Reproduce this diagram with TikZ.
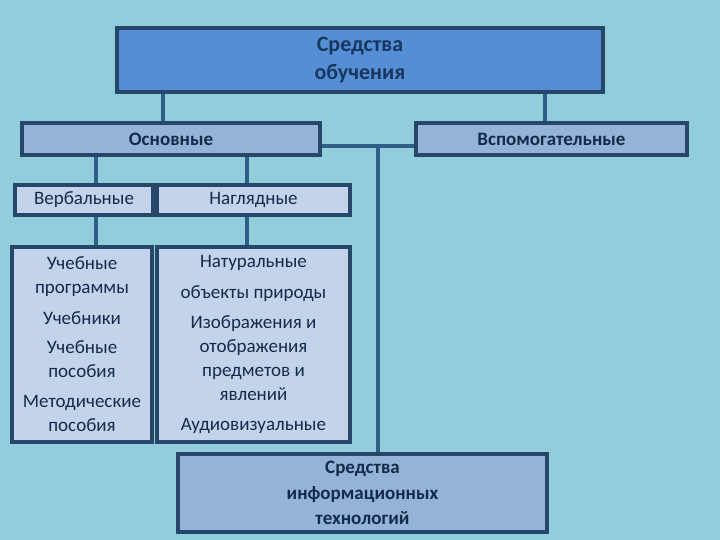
\documentclass[tikz,border=0pt]{standalone}
\usepackage{fontspec}
\setmainfont{Carlito}
\usepackage{tikz}
\usetikzlibrary{positioning}

\definecolor{bgblue}{HTML}{92CDDC}
\definecolor{topfill}{HTML}{558ED5}
\definecolor{midfill}{HTML}{95B3D7}
\definecolor{lowfill}{HTML}{C3D3EA}
\definecolor{edgeblue}{HTML}{264769}
\definecolor{linkblue}{HTML}{2F5F88}
\definecolor{inkblue}{HTML}{132B4B}
\definecolor{topink}{HTML}{17375E}

\tikzset{
  box/.style={draw=edgeblue, line width=3.2pt, inner sep=0pt, align=center, text=inkblue},
  topbox/.style={box, fill=topfill, text=topink, font=\fontsize{22}{28}\selectfont\bfseries},
  midbox/.style={box, fill=midfill, font=\fontsize{19}{25}\selectfont\bfseries},
  lowbox/.style={box, fill=lowfill, font=\fontsize{19}{24}\selectfont},
  link/.style={draw=linkblue, line width=3.2pt}
}

\begin{document}
\begin{tikzpicture}[x=1pt, y=-1pt]
        \useasboundingbox (0,0) rectangle (720,540);
        \fill[bgblue] (0,0) rectangle (720,540);

        % top level
        \node[topbox, minimum width=486, minimum height=64] (sredstva) at (360,60) {Средства\\обучения};

        % second level
        \node[midbox, minimum width=298, minimum height=32] (osnovnye) at (171,139) {Основные};
        \node[midbox, minimum width=271, minimum height=32] (vspomog) at (551.5,139) {Вспомогательные};

        % verbal / visual
        \node[lowbox, minimum width=138, minimum height=30] (verbal) at (84,200) {Вербальные};
        \node[lowbox, minimum width=193, minimum height=30] (nagl) at (253.5,200) {Наглядные};

        \node[lowbox, minimum width=140, minimum height=195] (verballist) at (82,344.5)
          {Учебные\\программы\\[7pt]Учебники\\[5pt]Учебные\\пособия\\[6pt]Методические\\пособия};
        \node[lowbox, minimum width=193, minimum height=195] (nagllist) at (253.5,344.5)
          {Натуральные\\[7pt]объекты природы\\[6pt]Изображения и\\отображения\\предметов и\\явлений\\[6pt]Аудиовизуальные};

        % information technologies
        \node[midbox, minimum width=369, minimum height=78, font=\fontsize{19}{25.5}\selectfont\bfseries] (infotech) at (362.5,493)
          {Средства\\информационных\\технологий};

        % connectors
        \draw[link] ([xshift=-8]osnovnye.north) -- ([xshift=-8]osnovnye.north |- sredstva.south);
        \draw[link] ([xshift=-6.5]vspomog.north) -- ([xshift=-6.5]vspomog.north |- sredstva.south);

        \draw[link] ([xshift=12]verbal.north) -- ([xshift=12]verbal.north |- osnovnye.south);
        \draw[link] ([xshift=-6.5]nagl.north) -- ([xshift=-6.5]nagl.north |- osnovnye.south);
        \draw[link] ([xshift=12]verbal.south) -- ([xshift=12]verbal.south |- verballist.north);
        \draw[link] ([xshift=-6.5]nagl.south) -- ([xshift=-6.5]nagl.south |- nagllist.north);

        \coordinate (joint) at ([yshift=-7]osnovnye.east);
        \draw[link] (joint) -- (joint -| vspomog.west);
        \draw[link] ([xshift=15.5]infotech.north) -- ([xshift=15.5]infotech.north |- joint);

\end{tikzpicture}
\end{document}
